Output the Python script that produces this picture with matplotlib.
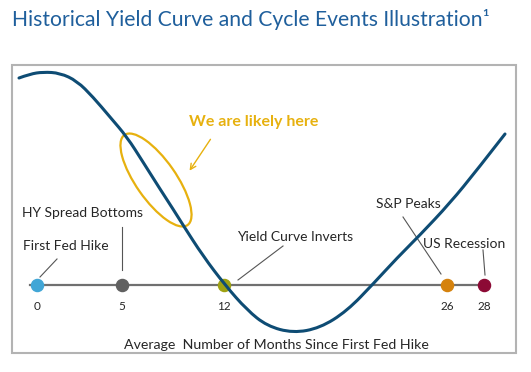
"""Historical yield curve and cycle events illustration."""
import matplotlib
matplotlib.use("Agg")
import matplotlib.pyplot as plt
from matplotlib.patches import Ellipse, Rectangle, PathPatch
from matplotlib.path import Path

plt.rcParams["font.family"] = ["Lato", "DejaVu Sans"]

# event timeline (months since first Fed hike)
months = [0, 5, 12, 26, 28]
events = ["First Fed Hike", "HY Spread Bottoms", "Yield Curve Inverts", "S&P Peaks", "US Recession"]
event_x = [37, 122, 224, 447, 484]

# stylised yield curve (height above the timeline)
curve_x = [19, 30, 43, 60, 77, 93, 110, 127, 143, 160, 173, 183, 203, 225,
           247, 267, 293, 320, 347, 374, 397, 420, 450, 477, 505]
curve_y = [207, 211, 213, 212, 204, 188, 168, 148, 123, 96, 76, 60, 29, 0,
           -25, -41, -48, -43, -26, 2, 27, 50, 82, 115, 151]

title = "Historical Yield Curve and Cycle Events Illustration\u00b9"
xlabel = "Average  Number of Months Since First Fed Hike"
callout = "We are likely here"

dot_colors = ["#41a6d6", "#606060", "#9fa213", "#d5820d", "#8c0a35"]
blue = "#0e4c74"
gold = "#e7b10f"
text_c = "#262626"


def smooth_path(xs, ys):
    """Quadratic B-spline style path: read points act as control points."""
    verts = [(xs[0], ys[0])]
    codes = [Path.MOVETO]
    for i in range(1, len(xs) - 1):
        mid = ((xs[i] + xs[i + 1]) / 2, (ys[i] + ys[i + 1]) / 2)
        if i == len(xs) - 2:
            mid = (xs[-1], ys[-1])
        verts += [(xs[i], ys[i]), mid]
        codes += [Path.CURVE3, Path.CURVE3]
    return Path(verts, codes)


fig = plt.figure(figsize=(5.31, 3.72), dpi=100)
ax = fig.add_axes([0, 0, 1, 1])
ax.set_xlim(0, 531)
ax.set_ylim(-87, 285)
ax.axis("off")

# frame of the picture box
ax.add_patch(Rectangle((12, -68), 504, 288, fill=False, ec="#b3b3b3", lw=1.5))

ax.text(12, 265, title, color="#1f5f9c", fontsize=15.2, va="center", ha="left")

# timeline
ax.plot([30, event_x[-1]], [0, 0], color="#707070", lw=1.6, zorder=2)

ax.add_patch(PathPatch(smooth_path(curve_x, curve_y), fill=False, ec=blue,
                       lw=2.2, zorder=3, capstyle="round"))

for x, m, c in zip(event_x, months, dot_colors):
    ax.plot(x, 0, "o", ms=8.7, color=c, zorder=4 if m != 12 else 2.5)
    ax.text(x, -21, str(m), ha="center", va="center", fontsize=8.5, color=text_c)

# labels and leader lines
label_pos = [(23, 39), (22, 72), (237, 48), (376, 81), (423, 41)]
leaders = [((57, 26), (40, 8)), ((122, 58), (122, 15)), ((283, 39), (238, 5)),
           ((403, 68), (441, 11)), ((483, 35), (485, 10))]
for name, (tx, ty), (p0, p1) in zip(events, label_pos, leaders):
    ax.text(tx, ty, name, ha="left", va="center", fontsize=10, color=text_c, zorder=5)
    ax.plot([p0[0], p1[0]], [p0[1], p1[1]], color="#555555", lw=0.8, zorder=2)

ax.text(276, -60, xlabel, ha="center", va="center", fontsize=10.2, color=text_c)

# "we are likely here" call-out
ax.add_patch(Ellipse((156, 105), 110, 40, angle=-55, fill=False, ec=gold, lw=1.6, zorder=2))
ax.annotate("", xy=(188, 112), xytext=(212, 148),
            arrowprops=dict(arrowstyle="->", color=gold, lw=1.0))
ax.text(254, 163, callout, ha="center", va="center", fontsize=11.5,
        fontweight="bold", color=gold)

fig.savefig("out.png", dpi=100)
